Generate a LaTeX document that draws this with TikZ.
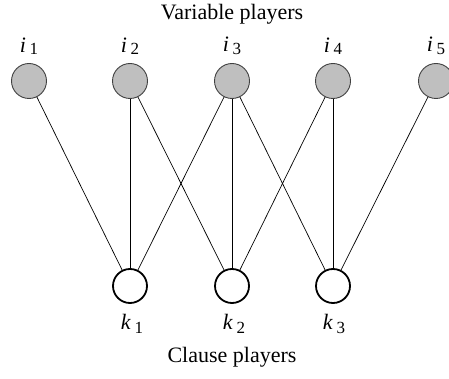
\documentclass[tikz,border=0pt]{standalone}
\usepackage{fontspec}
\setmainfont{Liberation Serif}
\begin{document}
\begin{tikzpicture}[x=1pt,y=-1pt,
  var/.style={circle,draw=black!75,fill=black!25,line width=0.9pt,minimum size=35pt,inner sep=0pt},
  cla/.style={circle,draw=black,fill=white,line width=1.8pt,minimum size=34pt,inner sep=0pt},
  lab/.style={font=\fontsize{22}{24}\selectfont},
  edge/.style={line width=0.7pt}]
\useasboundingbox (0,0) rectangle (449,379);
\node[lab] (vt) at (232,14) {Variable players};
\node[lab] (ct) at (232,357) {Clause players};
\node[var] (i1) at (29,81) {};
\node[var] (i2) at (130,81) {};
\node[var] (i3) at (232,81) {};
\node[var] (i4) at (333,81) {};
\node[var] (i5) at (436,81) {};
\node[cla] (k1) at (130,286) {};
\node[cla] (k2) at (232,286) {};
\node[cla] (k3) at (333,286) {};
\foreach \n/\x in {1/29,2/130,3/232,4/333,5/436}
  \node[lab] (li\n) at (\x,46) {\textit{i}\,\raisebox{-0.25ex}{\fontsize{17}{18}\selectfont\n}};
\foreach \n/\x in {1/132,2/234,3/334}
  \node[lab] (lk\n) at (\x,324) {\textit{k}\,\raisebox{-0.45ex}{\fontsize{17}{18}\selectfont\n}};
\draw[edge] (i1) -- (k1);
\draw[edge] (i2) -- (k1);
\draw[edge] (i2) -- (k2);
\draw[edge] (i3) -- (k1);
\draw[edge] (i3) -- (k2);
\draw[edge] (i3) -- (k3);
\draw[edge] (i4) -- (k2);
\draw[edge] (i4) -- (k3);
\draw[edge] (i5) -- (k3);
\end{tikzpicture}
\end{document}
